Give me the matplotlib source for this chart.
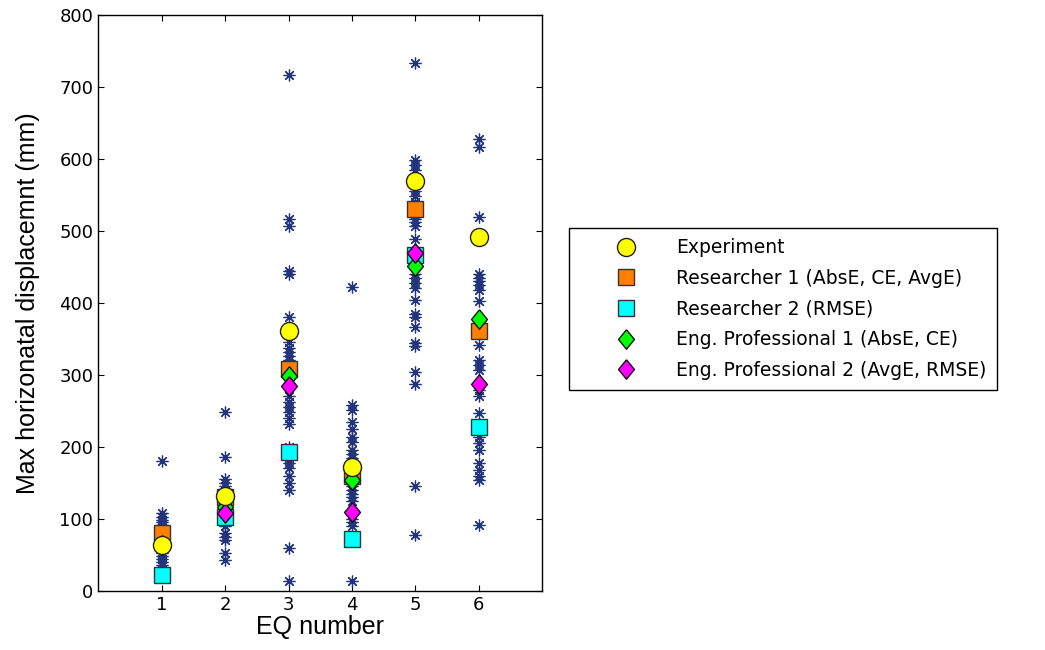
import matplotlib
matplotlib.use("Agg")
import matplotlib.pyplot as plt

# EQ numbers and the scatter of individual estimates for each one
eq = [1, 2, 3, 4, 5, 6]
estimates = [
    [180, 108, 102, 98, 95, 92, 88, 85, 80, 75, 70, 65, 58, 52, 48, 44, 40, 36],
    [249, 186, 155, 150, 145, 140, 135, 128, 120, 112, 100, 95, 90, 80, 75, 70, 52, 43],
    [716, 517, 507, 445, 440, 380, 345, 338, 332, 326, 320, 270, 262, 255, 248,
     240, 232, 200, 185, 178, 170, 160, 150, 140, 60, 13],
    [422, 258, 251, 235, 225, 214, 207, 196, 190, 185, 145, 140, 135, 130, 125,
     100, 95, 90, 13],
    [733, 598, 591, 584, 555, 548, 540, 517, 512, 507, 489, 440, 435, 428, 421,
     404, 385, 380, 366, 344, 340, 304, 288, 146, 77],
    [627, 617, 519, 440, 435, 430, 425, 418, 402, 342, 321, 314, 307, 279, 270,
     247, 214, 205, 195, 177, 168, 160, 154, 92],
]

experiment = [63, 132, 361, 172, 569, 491]
researcher1 = [80, 130, 308, 159, 530, 361]
researcher2 = [22, 103, 193, 72, 466, 228]
eng_prof1 = [63, 117, 298, 154, 451, 378]
eng_prof2 = [63, 108, 284, 110, 469, 288]

# slightly tall diamond
diamond = [(0, 1), (0.82, 0), (0, -1), (-0.82, 0), (0, 1)]

fig = plt.figure(figsize=(10.45, 6.5), dpi=100)
ax = fig.add_axes([0.094, 0.091, 0.425, 0.886])

for x, vals in zip(eq, estimates):
    ax.plot([x] * len(vals), vals, linestyle='none', marker=(8, 2, 0),
            markersize=8.5, markeredgewidth=0.9, color='#22347c')

ax.plot(eq, researcher2, 's', ms=12, mfc='#00ffff', mec='#333333', mew=1,
        label='Researcher 2 (RMSE)', zorder=3)
ax.plot(eq, researcher1, 's', ms=12, mfc='#ff7f00', mec='#333333', mew=1,
        label='Researcher 1 (AbsE, CE, AvgE)', zorder=3)
ax.plot(eq, eng_prof1, marker=diamond, ls='none', ms=14, mfc='#00ff00',
        mec='#111111', mew=1, label='Eng. Professional 1 (AbsE, CE)', zorder=4)
ax.plot(eq, eng_prof2, marker=diamond, ls='none', ms=14, mfc='#ff00ff',
        mec='#111111', mew=1, label='Eng. Professional 2 (AvgE, RMSE)', zorder=4)
ax.plot(eq, experiment, 'o', ms=13, mfc='#ffff00', mec='#222222', mew=1,
        label='Experiment', zorder=5)

ax.set_xlim(0, 7)
ax.set_ylim(0, 800)
ax.set_xticks(eq)
ax.set_yticks(range(0, 801, 100))
ax.tick_params(direction='in', top=True, right=True, labelsize=13, length=4)
for lbl in ax.get_xticklabels() + ax.get_yticklabels():
    lbl.set_family('DejaVu Sans')
for s in ax.spines.values():
    s.set_linewidth(1.0)

ax.set_xlabel('EQ number', fontsize=18, family='Liberation Sans', labelpad=1)
ax.set_ylabel('Max horizonatal displacemnt (mm)', fontsize=18,
              family='Liberation Sans', labelpad=14)

# legend in the order the series are listed, placed right of the axes
handles, labels = ax.get_legend_handles_labels()
order = ['Experiment', 'Researcher 1 (AbsE, CE, AvgE)', 'Researcher 2 (RMSE)',
         'Eng. Professional 1 (AbsE, CE)', 'Eng. Professional 2 (AvgE, RMSE)']
hmap = dict(zip(labels, handles))
leg = fig.legend([hmap[k] for k in order], order, loc='upper left',
                 bbox_to_anchor=(569 / 1045, 1 - 228 / 650),
                 bbox_transform=fig.transFigure, borderaxespad=0,
                 fancybox=False, edgecolor='black', framealpha=1,
                 prop={'family': 'DejaVu Sans', 'size': 13.5},
                 labelspacing=0.62, handletextpad=0.15, handlelength=5.0,
                 borderpad=0.55)
leg.get_frame().set_linewidth(1.0)

fig.savefig('out.png', dpi=100)
